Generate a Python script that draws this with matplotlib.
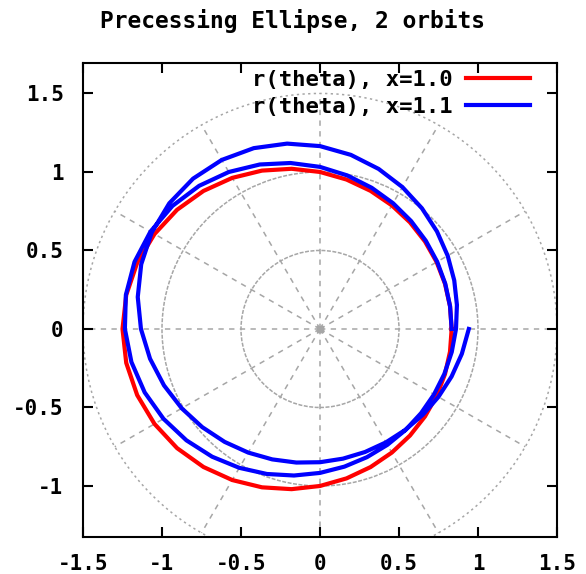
import numpy as np
import matplotlib
matplotlib.use("Agg")
import matplotlib.pyplot as plt
from matplotlib.patches import Circle
from matplotlib.projections.polar import PolarAxes

# ---------------- data (angle in degrees, radius) ----------------
title = "Precessing Ellipse, 2 orbits"
labels = ["r(theta), x=1.0", "r(theta), x=1.1"]

theta_red = list(range(0, 370, 10))
r_red = [0.8333, 0.8355, 0.8418, 0.8524, 0.8672, 0.8861, 0.9091, 0.9360, 0.9664,
         1.0000, 1.0360, 1.0734, 1.1111, 1.1475, 1.1809, 1.2095, 1.2314, 1.2453,
         1.2500, 1.2453, 1.2314, 1.2095, 1.1809, 1.1475, 1.1111, 1.0734, 1.0360,
         1.0000, 0.9664, 0.9360, 0.9091, 0.8861, 0.8672, 0.8524, 0.8418, 0.8355,
         0.8333]

theta_blue = list(range(0, 730, 10))
r_blue = [0.8333, 0.8359, 0.8436, 0.8564, 0.8742, 0.8971, 0.9248, 0.9569, 0.9931,
          1.0323, 1.0734, 1.1148, 1.1545, 1.1901, 1.2192, 1.2394, 1.2493, 1.2477,
          1.2349, 1.2120, 1.1809, 1.1440, 1.1036, 1.0621, 1.0213, 0.9829, 0.9478,
          0.9168, 0.8904, 0.8689, 0.8524, 0.8410, 0.8347, 0.8335, 0.8375, 0.8466,
          0.8607, 0.8800, 0.9042, 0.9331, 0.9664, 1.0035, 1.0434, 1.0848, 1.1259,
          1.1647, 1.1988, 1.2256, 1.2432, 1.2499, 1.2453, 1.2296, 1.2042, 1.1713,
          1.1332, 1.0923, 1.0508, 1.0106, 0.9729, 0.9389, 0.9091, 0.8840, 0.8639,
          0.8487, 0.8387, 0.8339, 0.8341, 0.8394, 0.8499, 0.8655, 0.8861, 0.9116,
          0.9418]

xticks = [-1.5, -1, -0.5, 0, 0.5, 1, 1.5]
yticks = [-1, -0.5, 0, 0.5, 1, 1.5]
grid_radii = [0.5, 1.0, 1.5]
grid_angles = list(range(0, 360, 30))

# ---------------- figure ----------------
W, H = 586, 574
fig = plt.figure(figsize=(W / 100, H / 100), dpi=100)
ax = fig.add_axes([83 / W, 1 - 537 / H, 474 / W, 474 / H])
ax.set_xlim(-1.5, 1.5)
ax.set_ylim(-1.325, 1.694)

font = "DejaVu Sans Mono"
grey = "#a6a6a6"

polar = PolarAxes.PolarTransform(apply_theta_transforms=False) + ax.transData

# polar grid
for rr in grid_radii:
    ls = (0, (2.6, 1.0)) if rr < 1.4 else (0, (1.5, 2.2))
    ax.add_patch(Circle((0, 0), rr, fill=False, edgecolor=grey, lw=1.1,
                        linestyle=ls, zorder=1))
for a in grid_angles:
    ax.plot(np.deg2rad([a, a]), [0, max(grid_radii)], transform=polar,
            color=grey, lw=1.1, linestyle=(0, (3.5, 3.5)), zorder=1)
ax.plot([0], [0], marker="s", ms=4, color=grey, mec=grey, zorder=1)

# curves
ax.plot(np.deg2rad(theta_red), r_red, transform=polar, color="#ff0000",
        lw=3, label=labels[0], zorder=3, solid_joinstyle="round")
ax.plot(np.deg2rad(theta_blue), r_blue, transform=polar, color="#0000ff",
        lw=3, label=labels[1], zorder=4, solid_joinstyle="round")

# axes styling
ax.set_xticks(xticks)
ax.set_yticks(yticks)
ax.set_xticklabels([f"{t:g}" for t in xticks])
ax.set_yticklabels([f"{t:g}" for t in yticks])
ax.tick_params(direction="in", length=7, width=1.5, top=True, right=True,
               labelsize=15, pad=12)
ax.tick_params(axis="y", pad=14)
for lab in ax.get_xticklabels() + ax.get_yticklabels():
    lab.set_fontfamily(font)
    lab.set_fontweight("bold")
for sp in ax.spines.values():
    sp.set_linewidth(1.5)

leg = ax.legend(loc="upper right", bbox_to_anchor=((530 - 83) / 474, 1 - 7 / 474),
                bbox_transform=ax.transAxes, frameon=False, markerfirst=False,
                handlelength=2.9, handletextpad=0.6, labelspacing=0.32,
                borderaxespad=0, borderpad=0,
                prop={"family": font, "weight": "bold", "size": 16})

fig.text(0.5, 1 - 21 / H, title, ha="center", va="center",
         fontfamily=font, fontweight="bold", fontsize=16.5)

fig.savefig("out.png", dpi=100)
